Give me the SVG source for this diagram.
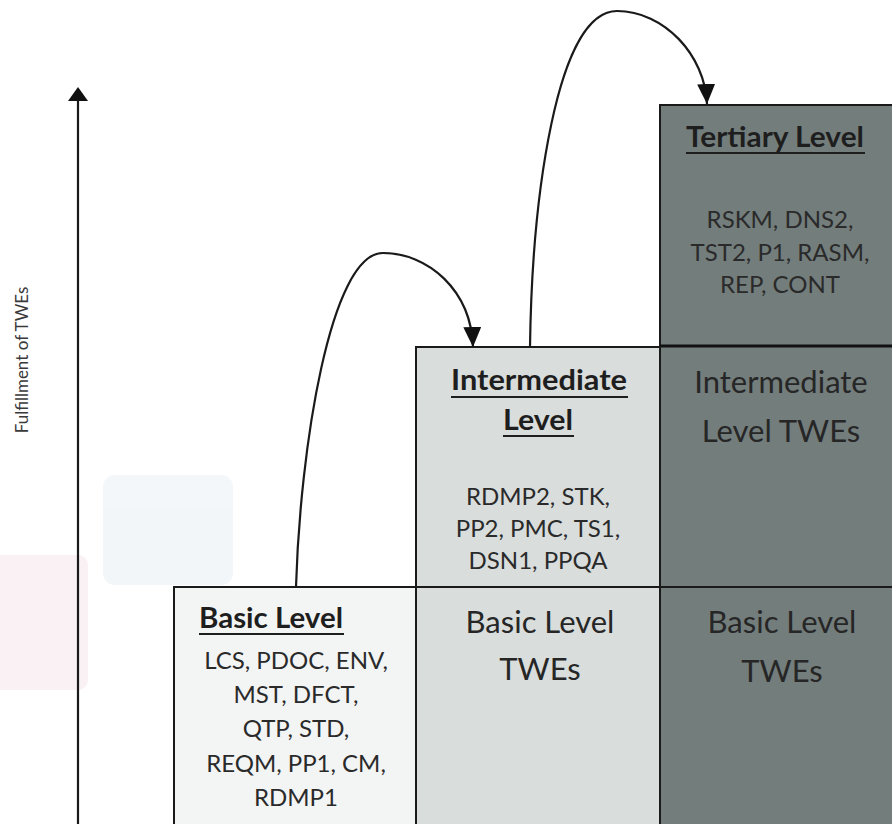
<svg xmlns="http://www.w3.org/2000/svg" width="892" height="824" viewBox="0 0 892 824">
  <style>
    .head { font-family: Lato, "Open Sans", "Liberation Sans", sans-serif; font-weight: 700; font-size: 28px; fill: #1e1e1e; text-anchor: middle; }
    .item { font-family: Lato, "Open Sans", "Liberation Sans", sans-serif; font-size: 24px; fill: #2a2a2a; text-anchor: middle; }
    .twe { font-family: Lato, "Open Sans", "Liberation Sans", sans-serif; font-size: 31px; fill: #262626; text-anchor: middle; }
    .uline { stroke: #1e1e1e; stroke-width: 2; }
    .edge { fill: none; stroke: #1a1a1a; stroke-width: 2.2; }
    .border { stroke: #1a1a1a; stroke-width: 2; }
    .axislabel { font-family: Lato, "Open Sans", "Liberation Sans", sans-serif; font-size: 17px; fill: #3a3a3a; text-anchor: middle; }
  </style>
  <defs>
    <marker id="arrow" viewBox="0 0 20 18" refX="20" refY="9" markerWidth="20" markerHeight="18" markerUnits="userSpaceOnUse" orient="auto">
      <path d="M0,0 L20,9 L0,18 Z" fill="#111"/>
    </marker>
  </defs>

  <rect width="892" height="824" fill="#ffffff"/>

  <!-- faint background tint patches -->
  <g id="tint" opacity="0.5">
    <rect x="103" y="475" width="130" height="110" rx="12" fill="#e8eff5"/>
    <rect x="-10" y="555" width="98" height="135" rx="10" fill="#f7e4ec"/>
  </g>

  <!-- vertical axis -->
  <g id="axis">
    <line x1="78" y1="98" x2="78" y2="824" stroke="#1a1a1a" stroke-width="2.2"/>
    <path d="M68,101 L78,87 L88,101 Z" fill="#111"/>
    <text class="axislabel" transform="translate(28 360) rotate(-90)">Fulfillment of TWEs</text>
  </g>

  <!-- tertiary column -->
  <g id="tertiary">
    <rect x="660" y="105" width="240" height="730" fill="#737d7c" class="border"/>
    <line x1="660" y1="346" x2="892" y2="346" stroke="#111" stroke-width="3"/>
    <line x1="660" y1="587" x2="892" y2="587" class="border"/>
    <text class="head" x="775" y="147" textLength="178" lengthAdjust="spacingAndGlyphs">Tertiary Level</text>
    <line class="uline" x1="686" y1="153" x2="865" y2="153"/>
    <text class="item" x="780" y="228">RSKM, DNS2,</text>
    <text class="item" x="780" y="261">TST2, P1, RASM,</text>
    <text class="item" x="780" y="293">REP, CONT</text>
    <text class="twe" x="781" y="393">Intermediate</text>
    <text class="twe" x="781" y="442">Level TWEs</text>
    <text class="twe" x="782" y="633">Basic Level</text>
    <text class="twe" x="782" y="682">TWEs</text>
  </g>

  <!-- intermediate column -->
  <g id="intermediate">
    <rect x="416" y="347" width="244" height="490" fill="#d9dddc" class="border"/>
    <line x1="416" y1="587" x2="660" y2="587" class="border"/>
    <text class="head" x="539" y="390" textLength="176" lengthAdjust="spacingAndGlyphs">Intermediate</text>
    <line class="uline" x1="451" y1="397" x2="628" y2="397"/>
    <text class="head" x="538" y="430" textLength="70" lengthAdjust="spacingAndGlyphs">Level</text>
    <line class="uline" x1="503" y1="436" x2="574" y2="436"/>
    <text class="item" x="538" y="505">RDMP2, STK,</text>
    <text class="item" x="538" y="537">PP2, PMC, TS1,</text>
    <text class="item" x="538" y="569">DSN1, PPQA</text>
    <text class="twe" x="540" y="633">Basic Level</text>
    <text class="twe" x="540" y="680">TWEs</text>
  </g>

  <!-- basic box -->
  <g id="basic">
    <rect x="174" y="587" width="242" height="250" fill="#f3f4f4" class="border"/>
    <text class="head" x="271" y="628" textLength="144" lengthAdjust="spacingAndGlyphs">Basic Level</text>
    <line class="uline" x1="199" y1="634" x2="344" y2="634"/>
    <text class="item" x="296" y="669">LCS, PDOC, ENV,</text>
    <text class="item" x="296" y="703">MST, DFCT,</text>
    <text class="item" x="296" y="737">QTP, STD,</text>
    <text class="item" x="296" y="772">REQM, PP1, CM,</text>
    <text class="item" x="296" y="806">RDMP1</text>
  </g>

  <!-- level progression connectors -->
  <g id="connectors">
    <path class="edge" d="M296,587 C300,450 330,253 383,253 C428,253 471,290 473,347" marker-end="url(#arrow)"/>
    <path class="edge" d="M530,347 C532,200 556,11 617,11 C664,11 705,55 707,104" marker-end="url(#arrow)"/>
  </g>
</svg>
